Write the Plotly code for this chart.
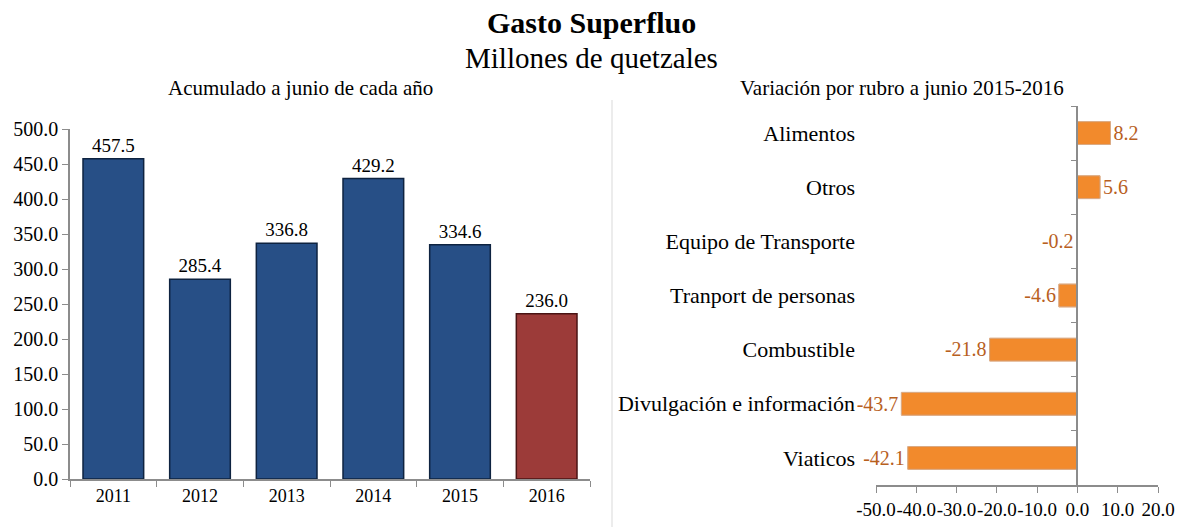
import plotly.graph_objects as go

years = ["2011", "2012", "2013", "2014", "2015", "2016"]
gasto = [457.5, 285.4, 336.8, 429.2, 334.6, 236.0]
bar_colors = ["#274F86", "#274F86", "#274F86", "#274F86", "#274F86", "#9C3B39"]
line_colors = ["#0E2340", "#0E2340", "#0E2340", "#0E2340", "#0E2340", "#4A1414"]

rubros = ["Viaticos", "Divulgación e información", "Combustible", "Tranport de personas",
          "Equipo de Transporte", "Otros", "Alimentos"]
variacion = [-42.1, -43.7, -21.8, -4.6, -0.2, 5.6, 8.2]

x2_ticks = [-50, -40, -30, -20, -10, 0, 10, 20]

FONT = "Liberation Serif"

fig = go.Figure()

fig.add_trace(go.Bar(
    x=years, y=gasto, xaxis="x", yaxis="y",
    marker=dict(color=bar_colors, line=dict(color=line_colors, width=1.5)),
    text=[f"{v:.1f}" for v in gasto], textposition="outside",
    textfont=dict(family=FONT, size=19, color="#000000"),
    cliponaxis=False, showlegend=False,
))

fig.add_trace(go.Bar(
    x=variacion, y=rubros, orientation="h", xaxis="x2", yaxis="y2", width=0.42,
    marker=dict(color="#F28A2C", line=dict(color="#D06A16", width=1)),
    text=[f"{v:.1f}" for v in variacion], textposition="outside",
    textfont=dict(family=FONT, size=22, color="#B8601E"),
    cliponaxis=False, showlegend=False,
))
# invisible trace for the axis drawn at zero
fig.add_trace(go.Bar(
    x=variacion, y=rubros, orientation="h", xaxis="x2", yaxis="y3", width=0.42,
    marker=dict(color="rgba(0,0,0,0)"), hoverinfo="skip", showlegend=False,
))

x2_dom = [876 / 1182, 1158 / 1182]
zero_pos = x2_dom[0] + (50 / 70) * (x2_dom[1] - x2_dom[0])

fig.update_layout(
    width=1182, height=527,
    margin=dict(l=0, r=0, t=0, b=0, autoexpand=False),
    paper_bgcolor="white", plot_bgcolor="white",
    font=dict(family=FONT, size=16, color="#000000"),
    bargap=0.3,
    xaxis=dict(domain=[70 / 1182, 590 / 1182], anchor="y", type="category", automargin=False,
               showline=True, linecolor="#8C8C8C", linewidth=1.5,
               ticks="outside", tickson="boundaries", ticklen=6, tickcolor="#8C8C8C",
               tickfont=dict(family=FONT, size=18), showgrid=False),
    yaxis=dict(domain=[1 - 479 / 527, 1 - 129 / 527], anchor="x", range=[0, 500], automargin=False,
               dtick=50, tickformat=".1f", showline=True, linecolor="#8C8C8C", linewidth=1.5,
               ticks="outside", ticklen=6, tickcolor="#8C8C8C", showgrid=False,
               zeroline=False, tickfont=dict(family=FONT, size=20)),
    xaxis2=dict(domain=x2_dom, anchor="y2", range=[-50, 20], automargin=False,
                tickvals=x2_ticks, ticktext=[f"{v:.1f}" for v in x2_ticks],
                showline=True, linecolor="#8C8C8C", linewidth=1.5,
                ticks="outside", ticklen=6, tickcolor="#8C8C8C", tickangle=0,
                showgrid=False, zeroline=False, tickfont=dict(family=FONT, size=19)),
    yaxis2=dict(domain=[1 - 485 / 527, 1 - 106 / 527], anchor="x2", type="category", automargin=False,
                showline=False, ticks="", showgrid=False, ticklabelstandoff=20,
                tickfont=dict(family=FONT, size=22)),
    yaxis3=dict(domain=[1 - 485 / 527, 1 - 106 / 527], overlaying="y2", matches="y2",
                anchor="free", position=zero_pos, type="category", automargin=False,
                showline=True, linecolor="#8C8C8C", linewidth=1.5,
                ticks="outside", tickson="boundaries", ticklen=6, tickcolor="#8C8C8C",
                showticklabels=False, showgrid=False),
    shapes=[dict(type="line", xref="paper", yref="paper",
                 x0=612 / 1182, x1=612 / 1182, y0=0, y1=1 - 100 / 527,
                 line=dict(color="#D9D9D9", width=1))],
    annotations=[
        dict(text="<b>Gasto Superfluo</b>", x=0.5, y=1 - 22 / 527, xref="paper", yref="paper",
             showarrow=False, font=dict(family=FONT, size=30), xanchor="center", yanchor="middle"),
        dict(text="Millones de quetzales", x=0.5, y=1 - 58 / 527, xref="paper", yref="paper",
             showarrow=False, font=dict(family=FONT, size=29), xanchor="center", yanchor="middle"),
        dict(text="Acumulado a junio de cada año", x=300 / 1182, y=1 - 88 / 527,
             xref="paper", yref="paper", showarrow=False, xanchor="center",
             font=dict(family=FONT, size=21), yanchor="middle"),
        dict(text="Variación por rubro a junio 2015-2016", x=902 / 1182, y=1 - 88 / 527,
             xref="paper", yref="paper", showarrow=False, xanchor="center",
             font=dict(family=FONT, size=21), yanchor="middle"),
    ],
)

fig.write_html("out.html", config={"displayModeBar": False},
               post_script="document.body.style.margin='0';")
